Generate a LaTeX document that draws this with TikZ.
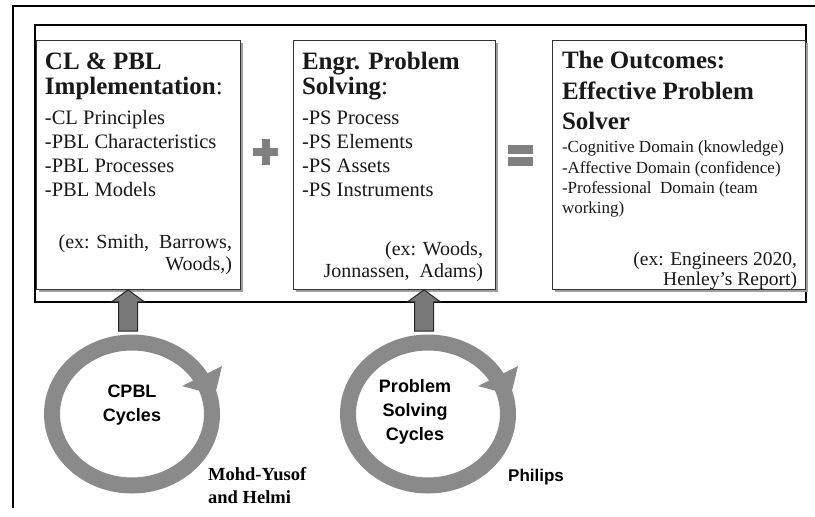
\documentclass[tikz,border=0pt]{standalone}
\usepackage{fontspec}
\setmainfont{Liberation Serif}
\newfontfamily\arialfont{Liberation Sans}
\usetikzlibrary{shapes.geometric,shadows,calc}
\definecolor{ringgray}{RGB}{138,138,138}
\definecolor{arrowgray}{RGB}{120,120,120}
\definecolor{signgray}{RGB}{128,128,128}
\definecolor{inkgray}{RGB}{25,25,25}
\begin{document}
\begin{tikzpicture}[x=1pt,y=-1pt,
  frameline/.style={draw=black, line width=1.4pt},
  innerframe/.style={draw=black, line width=1.8pt},
  infobox/.style={draw=black!80, line width=0.9pt, fill=white, anchor=north west,
    inner sep=0pt, drop shadow={shadow xshift=3pt, shadow yshift=-3pt, fill=gray!75, opacity=1}},
  txt/.style={inner sep=0pt, outer sep=0pt, text=inkgray},
  titletxt/.style={txt, anchor=base west, font=\fontsize{25}{30}\selectfont\bfseries},
  bodytxt/.style={txt, anchor=base west, font=\fontsize{20.5}{24}\selectfont},
  smalltxt/.style={txt, anchor=base west, font=\fontsize{17}{20}\selectfont},
  extxt/.style={txt, anchor=base east, font=\fontsize{20}{22}\selectfont},
  ring/.style={ellipse, draw=ringgray, line width=16pt, minimum width=160pt, minimum height=143pt, inner sep=0pt},
  ringlabel/.style={inner sep=0pt, anchor=base, text=black, font=\arialfont\bfseries\fontsize{18}{24}\selectfont},
  author/.style={inner sep=0pt, anchor=base west, text=black, font=\fontsize{18.5}{23}\selectfont\bfseries},
  blockarrow/.style={fill=arrowgray, draw=black!85, line width=1pt, line join=miter},
  barb/.style={fill=ringgray},
  sign/.style={fill=signgray}
]
\useasboundingbox (0,0) rectangle (815,517);

% outer frame (top and left sides)
\draw[frameline] (13,508) -- (13,6) -- (815,6);
% inner frame around the three boxes
\draw[innerframe] (35,25) rectangle (806,302);

% the three boxes
\node[infobox, minimum width=204pt, minimum height=249pt] (b1) at (36,40) {};
\node[infobox, minimum width=202pt, minimum height=249pt] (b2) at (293,40) {};
\node[infobox, minimum width=253pt, minimum height=249pt] (b3) at (552,40) {};

% box 1 texts
\node[titletxt] (t1a) at (45,69) {CL \& PBL};
\node[titletxt] (t1b) at (45,94) {Implementation{\mdseries:}};
\foreach \t [count=\i] in {-CL Principles,-PBL Characteristics,-PBL Processes,-PBL Models}
  \node[bodytxt] (l1-\i) at (45,100+24*\i) {\t};
\node[extxt] (e1a) at (232,248) {(ex: Smith,\ \ Barrows,};
\node[extxt] (e1b) at (232,270) {Woods,)};

% box 2 texts
\node[titletxt] (t2a) at (302,69) {Engr. Problem};
\node[titletxt] (t2b) at (302,94) {Solving{\mdseries:}};
\foreach \t [count=\i] in {-PS Process,-PS Elements,-PS Assets,-PS Instruments}
  \node[bodytxt] (l2-\i) at (302,100+24*\i) {\t};
\node[extxt] (e2a) at (483,255) {(ex: Woods,};
\node[extxt] (e2b) at (483,277) {Jonnassen,\ \ Adams)};

% box 3 texts
\node[titletxt] (t3a) at (562,68) {The Outcomes:};
\node[titletxt] (t3b) at (562,99) {Effective Problem};
\node[titletxt] (t3c) at (562,129) {Solver};
\node[smalltxt] (l3-1) at (562,152) {-Cognitive Domain (knowledge)};
\node[smalltxt] (l3-2) at (562,173) {-Affective Domain (confidence)};
\node[smalltxt] (l3-3) at (562,193) {-Professional\ \ Domain (team};
\node[smalltxt] (l3-4) at (562,213) {working)};
\node[extxt, font=\fontsize{19.5}{20}\selectfont] (e3a) at (797,265) {(ex: Engineers 2020,};
\node[extxt, font=\fontsize{19.5}{20}\selectfont] (e3b) at (797,285) {Henley's Report)};

% plus and equals signs
\fill[sign] (261.5,139) rectangle (269.5,165);
\fill[sign] (253,148) rectangle (278,156);
\fill[sign] (508,145) rectangle (533,154);
\fill[sign] (508,157) rectangle (533,166);

% cycle rings with their arrow barbs
\node[ring] (c1) at (132,414) {};
\node[ring] (c2) at (428,414) {};
\fill[barb] (182,386) -- (222,366) -- (215,395) -- cycle;
\fill[barb] (478,386) -- (518,366) -- (511,395) -- cycle;

\node[ringlabel] (c1a) at (132,397) {CPBL};
\node[ringlabel] (c1b) at (132,421) {Cycles};
\node[ringlabel] (c2a) at (415,392) {Problem};
\node[ringlabel] (c2b) at (415,416) {Solving};
\node[ringlabel] (c2c) at (415,440) {Cycles};

% authors
\node[author] (a1a) at (208,480) {Mohd-Yusof};
\node[author] (a1b) at (208,503) {and Helmi};
\node[author, font=\arialfont\bfseries\fontsize{17}{20}\selectfont] (a2) at (508,481) {Philips};

% block arrows from the rings up to the boxes
\coordinate (s1) at (128,331);
\coordinate (s2) at (424,331);
\coordinate (p1) at (b1.south -| s1);
\coordinate (p2) at (b2.south -| s2);
\foreach \s/\p in {s1/p1, s2/p2}{
  \draw[blockarrow] ($(\s)+(-9.5,0)$) -- ($(\p)+(-9.5,12)$) -- ($(\p)+(-16.5,12)$) -- (\p)
    -- ($(\p)+(16.5,12)$) -- ($(\p)+(9.5,12)$) -- ($(\s)+(9.5,0)$) -- cycle;
}
\end{tikzpicture}
\end{document}
